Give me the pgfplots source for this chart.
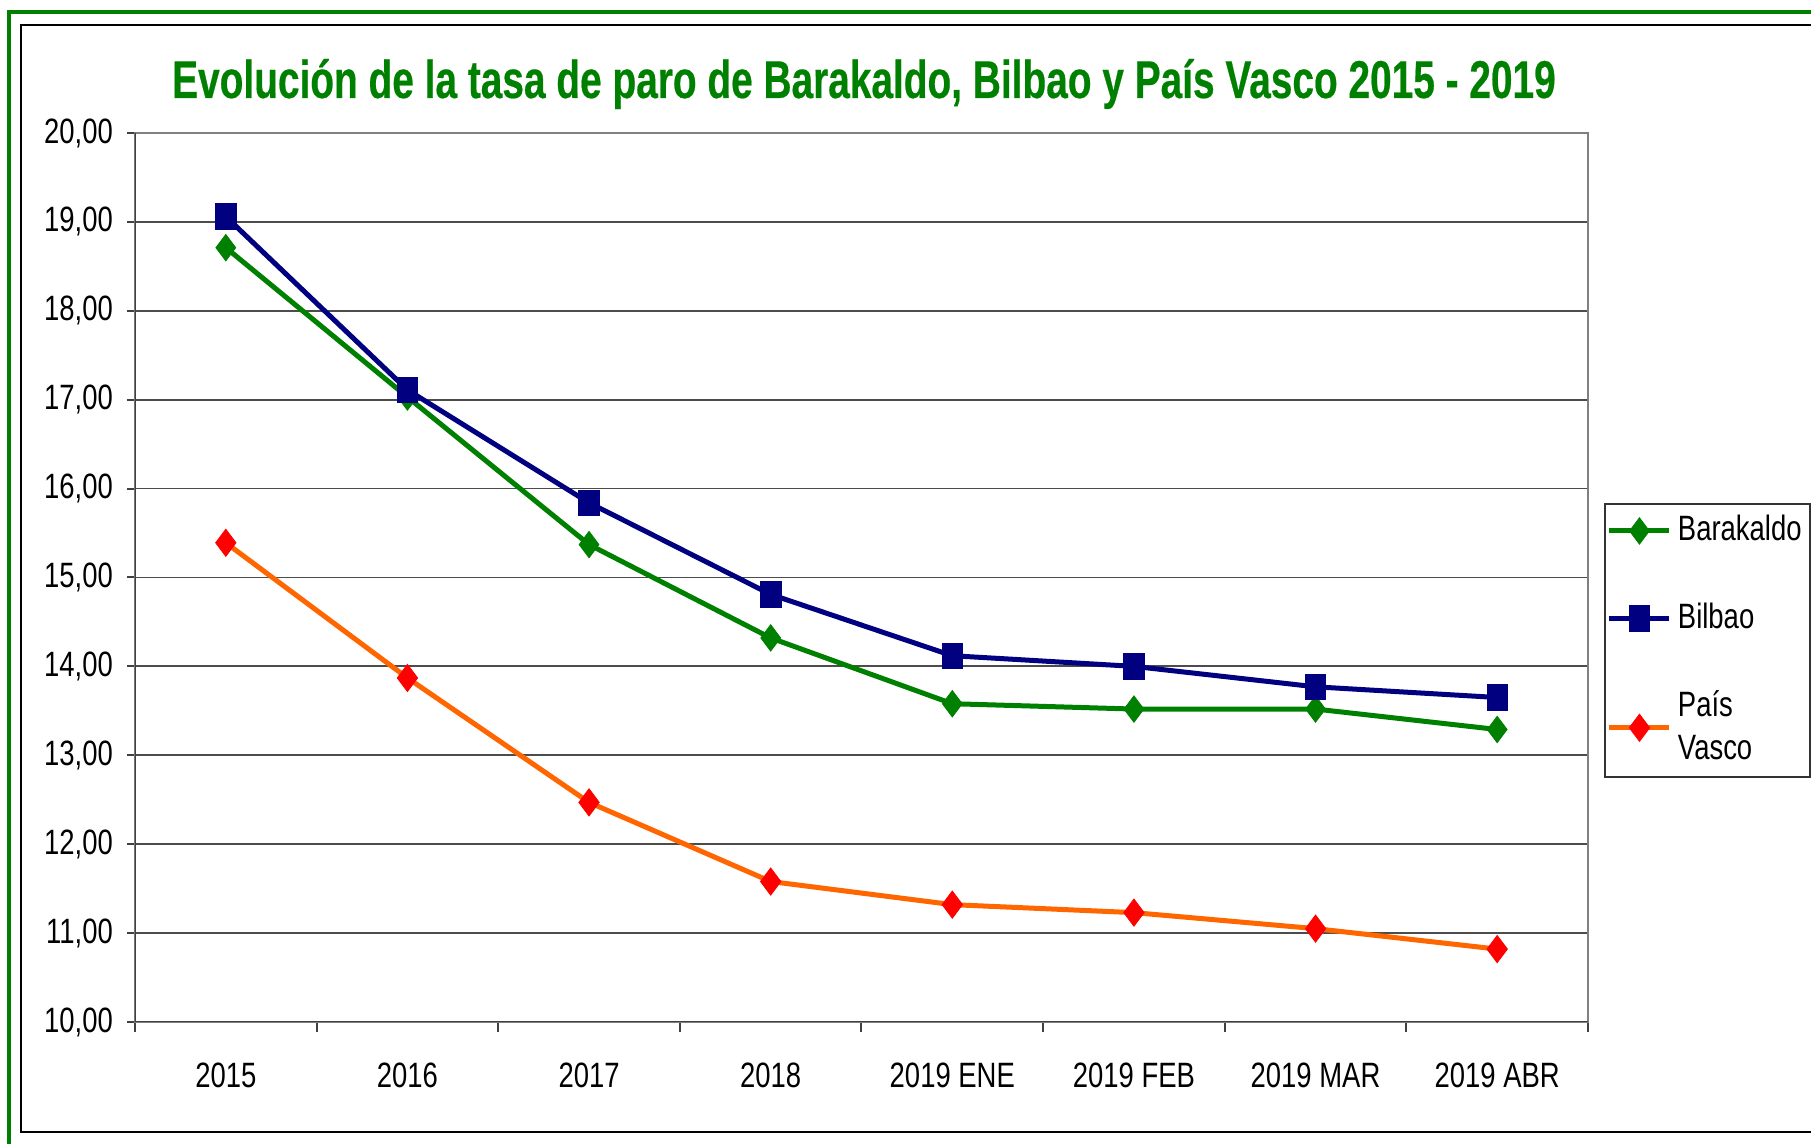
\documentclass[border=0pt]{standalone}
\usepackage{fontspec}
\setmainfont{Liberation Sans}[FakeStretch=0.78]
\newfontfamily\titlefont{Liberation Sans}[FakeStretch=0.73, FakeBold=0.4]
\usepackage{pgfplots}
\pgfplotsset{compat=1.18}
\definecolor{cgreen}{HTML}{008000}
\definecolor{cnavy}{HTML}{000080}
\definecolor{corange}{HTML}{FF6600}
\definecolor{cred}{HTML}{FF0000}
\begin{document}
\begin{tikzpicture}
\useasboundingbox (0,0) rectangle (452.75pt,286pt);
\fill[white] (0,0) rectangle (452.75pt,286pt);
\draw[cgreen, line width=0.8pt] (2.25pt,-5pt) -- (2.25pt,283pt) -- (460pt,283pt);
\draw[black, line width=0.5pt] (460pt,3pt) -- (5.25pt,3pt) -- (5.25pt,279.75pt) -- (460pt,279.75pt);
\node[anchor=base, text=cgreen, font=\fontsize{13.3}{16}\titlefont\bfseries] at (216pt,261.5pt)
  {Evolución de la tasa de paro de Barakaldo, Bilbao y País Vasco 2015 - 2019};
\begin{axis}[
  at={(33.75pt,30.5pt)}, anchor=south west,
  width=363.25pt, height=222.25pt, scale only axis,
  xmin=-0.5, xmax=7.5, ymin=10, ymax=20,
  xtick={0,...,7},
  xticklabels={2015,2016,2017,2018,2019 ENE,2019 FEB,2019 MAR,2019 ABR},
  major x tick style={draw=none},
  minor xtick={-0.5,0.5,1.5,2.5,3.5,4.5,5.5,6.5,7.5},
  xtick pos=bottom, ytick pos=left,
  minor tick length=2.5pt,
  major tick length=2pt,
  tick align=outside,
  tick style={black!75, line width=0.5pt},
  ytick={10,11,...,20},
  ymajorgrids,
  grid style={black!70, line width=0.45pt},
  axis line style={draw=gray, line width=0.7pt},
  /pgf/number format/assume math mode=true,
  yticklabel style={/pgf/number format/fixed, /pgf/number format/fixed zerofill,
    /pgf/number format/precision=2, /pgf/number format/use comma, anchor=east, xshift=0pt},
  tick label style={font=\fontsize{8.8}{10}\selectfont},
  xticklabel style={anchor=base, yshift=-14.3pt},
  legend style={at={(1.011,0.5838)}, anchor=north west, draw=black!80, line width=0.5pt,
    font=\fontsize{8.8}{10.8}\selectfont, row sep=10pt, inner xsep=0.5pt, inner ysep=0.8pt,
    nodes={inner xsep=1.5pt},
    cells={anchor=west, align=left}},
  legend image code/.code={\draw[mark repeat=2,mark phase=2] plot coordinates {(0pt,0pt)(7.5pt,0pt)(15pt,0pt)};},
]
\draw[black!75, line width=0.7pt] (rel axis cs:0,1) -- (rel axis cs:0,0) -- (rel axis cs:1,0);
\addplot[color=cgreen, line width=1.25pt, mark=diamond*, mark size=3.3pt,
  mark options={solid, fill=cgreen, draw=cgreen, line width=0.2pt}]
  coordinates {(0,18.71) (1,17.03) (2,15.37) (3,14.32) (4,13.58) (5,13.52) (6,13.52) (7,13.29)};
\addlegendentry{Barakaldo}
\addplot[color=cnavy, line width=1.25pt, mark=square*, mark size=3.2pt,
  mark options={solid, fill=cnavy, draw=cnavy, line width=0.2pt, xscale=0.8}]
  coordinates {(0,19.06) (1,17.11) (2,15.84) (3,14.81) (4,14.12) (5,14.00) (6,13.77) (7,13.65)};
\addlegendentry{Bilbao}
\addplot[color=corange, line width=1.25pt, mark=diamond*, mark size=3.4pt,
  mark options={solid, fill=cred, draw=cred, line width=0.2pt}]
  coordinates {(0,15.39) (1,13.87) (2,12.47) (3,11.58) (4,11.32) (5,11.23) (6,11.05) (7,10.82)};
\addlegendentry{País\\Vasco}
\end{axis}
\end{tikzpicture}
\end{document}
